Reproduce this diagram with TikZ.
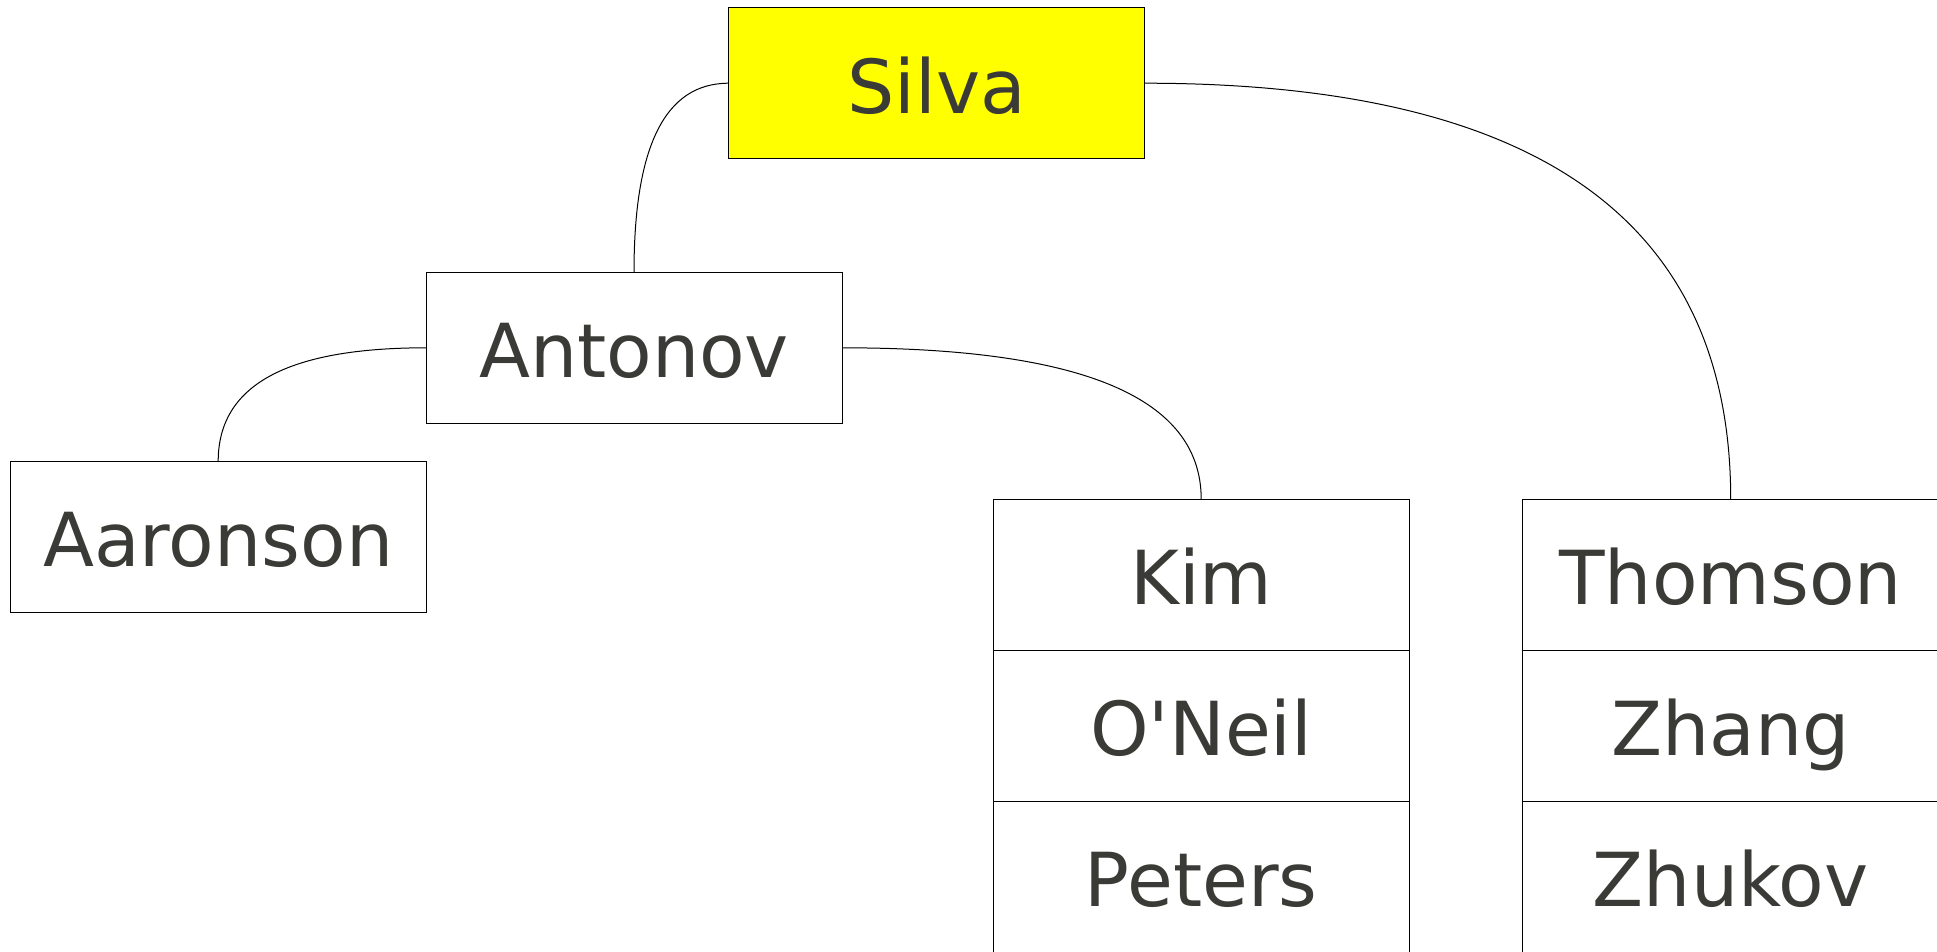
\documentclass[tikz,border=0pt]{standalone}
\usepackage{fontspec}
% plain family: no TeX quote mapping, so ' stays a straight apostrophe
\newfontfamily\namefont{DejaVu Sans}
\usetikzlibrary{calc}
\definecolor{inkgray}{HTML}{3A3A36}
\definecolor{rootfill}{HTML}{FFFF00}
% elbow-shaped Bezier link: leaves the parent horizontally, enters the child vertically
\newcommand\treelink[2]{%
  \draw[link] (#1) .. controls ($(#1)!0.67!(#1 -| #2)$) and ($(#2)!0.67!(#1 -| #2)$) .. (#2);}
\begin{document}
\begin{tikzpicture}[x=1pt,y=-1pt,
  namebox/.style={rectangle, draw=black, line width=1pt, fill=white,
    minimum width=416pt, minimum height=151pt, inner sep=0pt, outer sep=0pt,
    text height=60pt, text depth=0pt, text=inkgray,
    font=\namefont\fontsize{74.5}{80}\selectfont},
  rootbox/.style={namebox, fill=rootfill},
  link/.style={draw=black, line width=1pt}]
\useasboundingbox (0,0) rectangle (1937,951);

% nodes
\node[rootbox] (silva)    at (936.7,83.2)  {Silva};
\node[namebox] (antonov)  at (634,347.8)   {Antonov};
\node[namebox] (aaronson) at (218.2,536.8) {Aaronson};

\node[namebox] (kim)      at (1201.2,574.8) {Kim};
\node[namebox] (oneil)    at (1201.2,725.8) {O'Neil};
\node[namebox] (peters)   at (1201.2,876.8) {Peters};

\node[namebox] (thomson)  at (1730.7,574.8) {Thomson};
\node[namebox] (zhang)    at (1730.7,725.8) {Zhang};
\node[namebox] (zhukov)   at (1730.7,876.8) {Zhukov};

% connectors
\treelink{silva.west}{antonov.north}
\treelink{silva.east}{thomson.north}
\treelink{antonov.west}{aaronson.north}
\treelink{antonov.east}{kim.north}
\end{tikzpicture}
\end{document}
